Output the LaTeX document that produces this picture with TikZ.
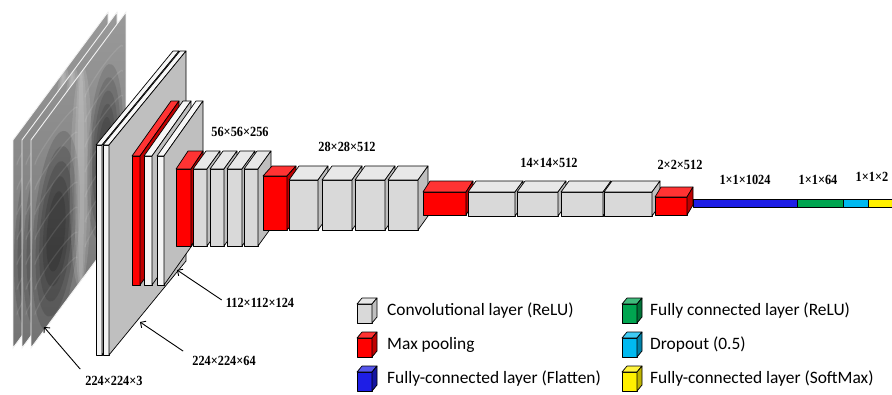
\documentclass[tikz,border=0pt]{standalone}
\usepackage{fontspec}
\newfontfamily\legendfont{Carlito}
\newfontfamily\dimfont[FakeStretch=0.88]{Liberation Serif}
\usetikzlibrary{arrows.meta,positioning}
\definecolor{fcblue}{RGB}{30,30,230}
\definecolor{fcgreen}{RGB}{0,165,80}
\definecolor{dropcyan}{RGB}{0,185,240}
\definecolor{softyellow}{RGB}{255,240,0}
\tikzset{
  face/.style = {draw=black, line width=0.7pt, line join=round, fill=#1},
  convfront/.style = {face=gray!30}, convtop/.style = {face=gray!18}, convside/.style = {face=gray!50},
  slabfront/.style = {face=gray!8}, slabtop/.style = {face=gray!6}, slabside/.style = {face=gray!50},
  poolfront/.style = {face=red}, pooltop/.style = {face=red!80!white}, poolside/.style = {face=red!75!black},
  flatfront/.style = {face=fcblue}, flattop/.style = {face=fcblue!75!white}, flatside/.style = {face=fcblue!70!black},
  fcfront/.style = {face=fcgreen}, fctop/.style = {face=fcgreen!75!white}, fcside/.style = {face=fcgreen!70!black},
  dropfront/.style = {face=dropcyan}, droptop/.style = {face=dropcyan!75!white}, dropside/.style = {face=dropcyan!70!black},
  softfront/.style = {face=softyellow}, softtop/.style = {face=softyellow!75!white}, softside/.style = {face=softyellow!75!black},
  dimlabel/.style = {font={\dimfont\bfseries\fontsize{14}{16}\selectfont}, inner sep=1pt},
  legtext/.style = {anchor=west, font={\legendfont\fontsize{17.4}{20}\selectfont}, inner sep=0pt},
  dimarrow/.style = {-{Straight Barb[length=4pt,width=8pt]}, line width=0.9pt},
}
% front face, top face and right face of one layer block
\newcommand{\cuboid}[7]{%
  \draw[#1front] (#2,#3) rectangle ++(#4,#5);
  \draw[#1top] (#2,#3) -- ++(#6,-#7) -- ++(#4,0) -- ++(-#6,#7) -- cycle;
  \draw[#1side] (#2+#4,#3) -- ++(#6,-#7) -- ++(0,#5) -- ++(-#6,#7) -- cycle;
}
% one slanted x-ray slice
\newcommand{\xrayslice}[1]{%
  \begin{scope}[shift={(#1,140)}, yslant=1.347]
    \begin{scope}
      \clip (0,0) rectangle (95,208);
      \shade[top color=gray!80, bottom color=gray!90!black] (0,0) rectangle (95,208);
      \foreach \s in {1,0.85,0.7,0.55,0.4}{
        \fill[black, opacity=0.13] (25,125) ellipse ({24*\s} and {95*\s});
        \fill[black, opacity=0.11] (74,112) ellipse ({18*\s} and {85*\s});
      }
      \foreach \s in {1,0.6,0.3}
        \fill[white, opacity=0.12] (50,104) ellipse ({11*\s} and 110);
      \foreach \r in {30,55,80,105,130,155,180}
        \draw[white, opacity=0.1, line width=1.2pt] (4,\r) arc (180:360:21 and 7) (54,\r) arc (180:360:19 and 7);
    \end{scope}
    \draw[gray!10, line width=0.9pt] (0,0) rectangle (95,208);
  \end{scope}}

\begin{document}
\begin{tikzpicture}[x=1pt, y=-1pt]
\useasboundingbox (0,0) rectangle (892,394);

% input: 224x224x3
\xrayslice{13}
\xrayslice{22}
\xrayslice{31}

% 224x224x64
\cuboid{slab}{96}{145}{6}{210}{77}{94}
\cuboid{slab}{103}{145}{6}{210}{77}{94}

% 112x112x124
\cuboid{pool}{132}{156}{8}{129}{39}{55}
\cuboid{slab}{144}{156}{8}{129}{39}{55}
\cuboid{slab}{157}{156}{7}{129}{39}{55}

% 56x56x256
\cuboid{pool}{176}{169}{15}{77}{12}{18}
\cuboid{conv}{193}{169}{14}{77}{13}{18}
\cuboid{conv}{210}{169}{14}{77}{13}{18}
\cuboid{conv}{227}{169}{15}{77}{13}{18}
\cuboid{conv}{244}{169}{14}{77}{13}{18}

% 28x28x512
\cuboid{pool}{263}{176}{24}{54}{9}{10}
\cuboid{conv}{289}{180}{29}{50}{10}{14}
\cuboid{conv}{322}{180}{30}{50}{10}{14}
\cuboid{conv}{355}{180}{30}{50}{10}{14}
\cuboid{conv}{388}{180}{30}{50}{10}{14}

% 14x14x512
\cuboid{pool}{423}{192}{43}{23}{7}{11}
\cuboid{conv}{468}{192}{47}{24}{8}{11}
\cuboid{conv}{517}{192}{41}{24}{8}{11}
\cuboid{conv}{561}{192}{42}{24}{8}{11}
\cuboid{conv}{604}{192}{48}{24}{8}{11}

% 2x2x512
\cuboid{pool}{655}{197}{32}{18}{6}{10}

% flatten, dense, dropout, softmax
\draw[flatfront] (693,199) rectangle (797,207);
\draw[fcfront] (797,199) rectangle (843,207);
\draw[dropfront] (843,199) rectangle (868,207);
\draw[softfront] (868,199) rectangle (893,207);

% sizes
\node[dimlabel] (l56) at (240,132) {56×56×256};
\node[dimlabel] (l28) at (347,147) {28×28×512};
\node[dimlabel] (l14) at (549,163) {14×14×512};
\node[dimlabel] (l2) at (680,165) {2×2×512};
\node[dimlabel] (l1024) at (745,180) {1×1×1024};
\node[dimlabel] (l64) at (818,180) {1×1×64};
\node[dimlabel] (lout) at (872,177) {1×1×2};
\node[dimlabel] (l112) at (260,303) {112×112×124};
\node[dimlabel] (l224) at (224,361) {224×224×64};
\node[dimlabel] (l3) at (114,381) {224×224×3};

\coordinate (in3) at (44,327);
\coordinate (in224) at (140,322);
\coordinate (in112) at (177,270);
\draw[dimarrow] ([shift={(-4,-6)}]l3.north west) -- (in3);
\draw[dimarrow] ([shift={(-8,-4)}]l224.north west) -- (in224);
\draw[dimarrow] ([shift={(-3,-3)}]l112.west) -- (in112);

% legend
\cuboid{conv}{357}{304}{15}{19}{5}{6}
\cuboid{pool}{357}{338}{15}{19}{5}{6}
\cuboid{flat}{357}{372}{15}{19}{5}{6}
\cuboid{fc}{622}{304}{15}{19}{5}{6}
\cuboid{drop}{622}{338}{15}{19}{5}{6}
\cuboid{soft}{622}{372}{15}{19}{5}{6}
\node[legtext] (legconv) at (387,311) {Convolutional layer (ReLU)};
\node[legtext] (legpool) at (387,345) {Max pooling};
\node[legtext] (legflat) at (387,379) {Fully-connected layer (Flatten)};
\node[legtext] (legfc) at (650,311) {Fully connected layer (ReLU)};
\node[legtext] (legdrop) at (650,345) {Dropout (0.5)};
\node[legtext] (legsoft) at (650,379) {Fully-connected layer (SoftMax)};
\end{tikzpicture}
\end{document}
